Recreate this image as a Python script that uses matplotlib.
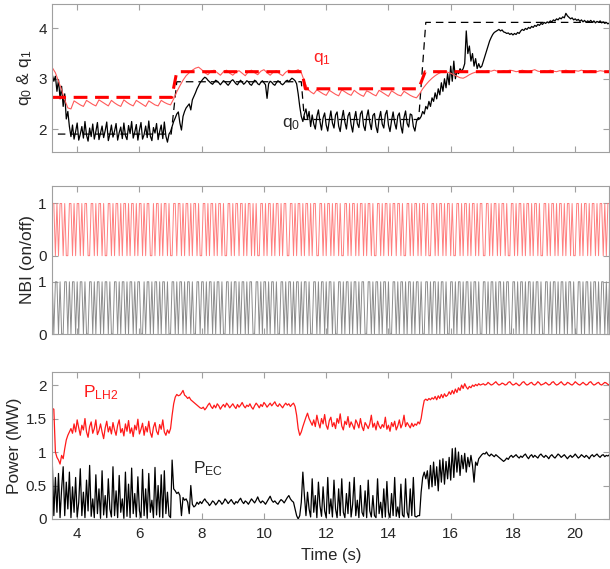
import matplotlib.pyplot as plt
import numpy as np

plt.rcParams['font.family'] = 'Liberation Sans'
plt.rcParams['mathtext.fontset'] = 'custom'
plt.rcParams['mathtext.rm'] = 'Liberation Sans'
plt.rcParams['mathtext.it'] = 'Liberation Sans'
plt.rcParams['mathtext.default'] = 'regular'

T_START, T_END = 3.2, 21.1

# safety-factor targets (step references)
q1_ref_t = [3.2, 7.04, 7.2, 11.22, 11.33, 14.97, 15.18, 21.1]
q1_ref_v = [2.63, 2.63, 3.14, 3.14, 2.80, 2.80, 3.14, 3.14]
q0_ref_t = [3.38, 7.02, 7.2, 11.2, 11.3, 14.97, 15.2, 21.1]
q0_ref_v = [1.90, 1.90, 2.94, 2.94, 2.19, 2.19, 4.12, 4.12]

# measured q0, sampled every 0.05 s from 3.2 s
q0_vals = [
    # 3.20 - 3.75
    3.08, 2.95, 3.05, 2.75, 2.98, 2.60, 2.85, 2.45, 2.70, 2.20, 2.35, 2.05,
    # 3.80 - 6.95
    1.85, 2.08, 1.80, 1.95, 2.12, 1.78, 1.90, 2.05, 1.82, 2.15,
    1.88, 1.76, 2.02, 1.85, 2.10, 1.80, 1.95, 2.13, 1.79, 1.92,
    2.06, 1.83, 1.97, 2.14, 1.77, 1.90, 2.08, 1.84, 1.96, 2.11,
    1.78, 1.93, 2.04, 1.81, 2.12, 1.87, 1.79, 2.07, 1.91, 2.15,
    1.82, 1.94, 2.09, 1.78, 1.98, 2.13, 1.80, 1.89, 2.06, 1.83,
    2.16, 1.86, 1.77, 2.03, 1.92, 2.11, 1.79, 1.95, 2.08, 1.81,
    2.14, 1.86, 1.74, 1.90,
    # 7.00 - 8.15
    1.95, 2.05, 2.15, 2.22, 2.30, 2.34, 2.12, 1.98, 2.25, 2.35, 2.42, 2.46,
    2.50, 2.38, 2.58, 2.65, 2.72, 2.80, 2.86, 2.92, 2.96, 3.00, 3.03, 3.01,
    # 8.20 - 10.95
    2.97, 2.94, 2.91, 2.89, 2.93, 2.97, 2.95, 2.92,
    2.88, 2.92, 2.96, 2.94, 2.90, 2.87, 2.91, 2.96,
    2.98, 2.94, 2.90, 2.88, 2.93, 2.97, 2.93, 2.89,
    2.92, 2.96, 2.94, 2.89, 2.87, 2.92, 2.97, 2.95,
    2.90, 2.88, 2.93, 2.96, 2.92, 2.88, 2.61, 2.90,
    2.95, 2.93, 2.89, 2.87, 2.92, 2.96, 2.94, 2.90,
    2.88, 2.91, 2.95, 2.97, 2.94, 2.98, 3.01, 2.99,
    # 11.00 - 11.30
    2.96, 2.90, 2.70, 2.45, 2.25, 2.15, 2.30,
    # 11.35 - 14.95
    2.40, 2.20, 2.35, 2.05, 2.28, 2.10, 2.00, 2.25, 2.38, 2.15,
    1.98, 2.22, 2.32, 2.08, 1.96, 2.18, 2.36, 2.12, 2.02, 2.28,
    2.34, 2.06, 1.95, 2.20, 2.37, 2.14, 2.00, 2.26, 2.33, 2.09,
    1.94, 2.19, 2.35, 2.11, 2.03, 2.30, 2.36, 2.07, 1.97, 2.24,
    2.38, 2.13, 1.99, 2.27, 2.31, 2.05, 1.93, 2.21, 2.35, 2.10,
    2.02, 2.29, 2.37, 2.08, 1.95, 2.17, 2.34, 2.12, 2.00, 2.26,
    2.32, 2.06, 1.92, 2.23, 2.36, 2.11, 2.04, 2.30, 2.28, 2.05,
    1.96, 2.15, 2.22,
    # 15.00 - 17.00
    2.20, 2.25, 2.35, 2.30, 2.45, 2.40, 2.55, 2.45, 2.62, 2.55,
    2.72, 2.60, 2.80, 2.68, 2.92, 2.75, 3.00, 2.82, 3.10, 2.88,
    3.25, 2.95, 3.35, 3.00, 3.15, 3.10, 3.20, 3.15, 3.20, 3.30,
    3.95, 3.50, 3.65, 3.35, 3.50, 3.25, 3.40, 3.20, 3.30, 3.22, 3.25,
    # 17.05 - 21.10
    3.35, 3.45, 3.55, 3.65, 3.75, 3.82, 3.88, 3.92, 3.94, 3.96,
    3.98, 3.95, 3.97, 3.93, 3.92, 3.90, 3.91, 3.88, 3.90, 3.87,
    3.90, 3.88, 3.92, 3.90, 3.95, 3.98, 3.96, 4.00, 3.98, 4.02,
    4.00, 4.04, 4.02, 4.06, 4.04, 4.08, 4.06, 4.10, 4.08, 4.12,
    4.10, 4.13, 4.11, 4.15, 4.13, 4.17, 4.15, 4.19, 4.17, 4.21,
    4.19, 4.23, 4.21, 4.30, 4.25, 4.22, 4.19, 4.21, 4.17, 4.19,
    4.16, 4.18, 4.14, 4.17, 4.13, 4.16, 4.12, 4.15, 4.13, 4.16,
    4.12, 4.15, 4.11, 4.14, 4.12, 4.15, 4.11, 4.13, 4.10, 4.12, 4.09, 4.11,
]

# measured q1, sampled every 0.1 s from 3.2 s
q1_vals = [
    3.22, 3.12, 2.95, 2.78, 2.58, 2.42,
    2.40, 2.56, 2.52, 2.48, 2.45, 2.57, 2.53, 2.49, 2.46, 2.58, 2.54, 2.50,
    2.46, 2.57, 2.52, 2.48, 2.45, 2.58, 2.53, 2.49, 2.46, 2.57, 2.53, 2.49,
    2.45, 2.56, 2.52, 2.48, 2.46, 2.57, 2.53, 2.50,
    2.48, 2.60, 2.74, 2.86, 2.97, 3.06, 3.12, 3.17, 3.21, 3.23,
    3.18, 3.12, 3.08, 3.15, 3.17, 3.12, 3.07, 3.14, 3.17, 3.11, 3.07, 3.13,
    3.16, 3.11, 3.06, 3.14, 3.17, 3.12, 3.08, 3.15, 3.18, 3.12, 3.07, 3.13,
    3.16, 3.10, 3.06, 3.13, 3.17, 3.12, 3.15, 3.18,
    3.12, 2.95, 2.80, 2.74,
    2.70, 2.78, 2.74, 2.70, 2.67, 2.77, 2.73, 2.69, 2.66, 2.78, 2.74, 2.70,
    2.67, 2.77, 2.72, 2.68, 2.65, 2.76, 2.73, 2.69, 2.66, 2.77, 2.73, 2.69,
    2.65, 2.76, 2.72, 2.68, 2.66, 2.75, 2.71, 2.67, 2.64, 2.62,
    2.70, 2.80, 2.88, 2.95, 3.01, 3.06, 3.10, 3.13, 3.14, 3.13,
    3.11, 3.08, 3.05, 3.02, 3.01, 3.04, 3.08, 3.11, 3.13, 3.14,
    3.15, 3.14, 3.16, 3.15, 3.17, 3.15, 3.14, 3.16, 3.15, 3.17, 3.16, 3.14,
    3.15, 3.17, 3.15, 3.14, 3.16, 3.18, 3.15, 3.14, 3.16, 3.15, 3.17, 3.15,
    3.14, 3.16, 3.15, 3.17, 3.15, 3.14, 3.16, 3.15, 3.17, 3.15, 3.14, 3.16,
    3.15, 3.14, 3.16, 3.15, 3.14, 3.15,
]

# NBI on/off commands, one bit every 0.05 s
nbi_a_bits = (
    "11010110100110101101011001101011010011010110101101"
    "01101011010110010110101101001101101011010110100110"
    "10110101101001101011011010110101001101011010110101"
    "10011010110101101011001101011010110100110101101011"
    "01011010011010110101101101001101011010110100110101"
    "10101101001101011010110101100110101101011010011010"
    "11010110101101001101011010110101101001101011010110"
    "101101011"
)
nbi_b_bits = (
    "10110100110101101011010011010110101101001101011010"
    "11010110010110101101011010011010110101101001101101"
    "01101011010011010110101101011001101011010110100110"
    "10110101101011010011010110101101001101011010110101"
    "10011010110101101001101011010110101101001101011010"
    "11010011010110101101011010011010110101101011001101"
    "01101011010110100110101101011010110100110101101011"
    "010110101"
)

# LH power, every 0.05 s from 3.2 s
plh2_vals = [
    1.65, 1.64, 1.00, 0.92, 0.88, 0.82, 0.95, 0.90, 1.05, 1.18, 1.25, 1.30,
    1.35, 1.28, 1.42, 1.30, 1.48, 1.36, 1.25, 1.40, 1.33, 1.50,
    1.30, 1.22, 1.38, 1.45, 1.28, 1.35, 1.48, 1.26, 1.32, 1.42,
    1.30, 1.20, 1.36, 1.46, 1.30, 1.38, 1.27, 1.44, 1.33, 1.25,
    1.40, 1.48, 1.29, 1.35, 1.24, 1.42, 1.31, 1.47, 1.28, 1.36,
    1.23, 1.40, 1.33, 1.49, 1.27, 1.34, 1.43, 1.25, 1.38, 1.30,
    1.46, 1.29, 1.22, 1.37, 1.44, 1.31, 1.26, 1.41, 1.34, 1.48,
    1.30, 1.25, 1.33, 1.28,
    1.35, 1.55, 1.72, 1.82, 1.86, 1.84, 1.85, 1.88, 1.92, 1.85, 1.83, 1.80,
    1.82, 1.78, 1.76, 1.74, 1.72, 1.70, 1.68, 1.66, 1.65, 1.67, 1.63, 1.66,
    1.70, 1.73, 1.68, 1.65, 1.70, 1.66, 1.72, 1.69, 1.64, 1.68,
    1.71, 1.67, 1.73, 1.70, 1.66, 1.69, 1.72, 1.68, 1.65, 1.71,
    1.67, 1.70, 1.74, 1.69, 1.66, 1.70, 1.68, 1.72, 1.67, 1.64,
    1.69, 1.73, 1.70, 1.66, 1.71, 1.68, 1.74, 1.71, 1.67, 1.70,
    1.73, 1.69, 1.72, 1.75, 1.70, 1.68, 1.72, 1.69, 1.66, 1.70,
    1.73, 1.70, 1.72, 1.68, 1.71, 1.73,
    1.68, 1.55, 1.35, 1.25, 1.30, 1.38, 1.45,
    1.52, 1.58, 1.50, 1.45, 1.40, 1.48, 1.38, 1.55, 1.44, 1.36,
    1.50, 1.42, 1.56, 1.40, 1.34, 1.47, 1.52, 1.38, 1.44, 1.35,
    1.50, 1.43, 1.57, 1.39, 1.33, 1.46, 1.41, 1.53, 1.37, 1.45,
    1.40, 1.34, 1.48, 1.43, 1.36, 1.50, 1.38, 1.32, 1.44, 1.40,
    1.35, 1.42, 1.55, 1.37, 1.43, 1.33, 1.46, 1.39, 1.35, 1.41,
    1.37, 1.52, 1.34, 1.40, 1.31, 1.44, 1.38, 1.46, 1.33, 1.39,
    1.48, 1.36, 1.42, 1.55, 1.38, 1.44, 1.40, 1.36, 1.43, 1.38,
    1.42, 1.40, 1.45,
    1.42, 1.50, 1.65, 1.77, 1.79, 1.77, 1.80, 1.78, 1.81, 1.79,
    1.83, 1.78, 1.84, 1.80, 1.86, 1.81, 1.87, 1.83, 1.85, 1.90,
    1.86, 1.92, 1.87, 1.94, 1.89, 1.96, 1.92, 2.00, 1.95, 2.02,
    1.97, 1.94, 1.98, 1.96, 2.00, 1.98, 2.01, 1.99, 2.02, 2.00, 2.01,
    2.02, 2.00, 2.01, 2.04, 2.02, 2.00, 2.01, 2.03, 2.05, 2.02,
    2.00, 2.01, 2.03, 2.02, 2.00, 2.01, 2.04, 2.05, 2.02, 2.00,
    2.01, 2.03, 2.01, 1.99, 2.01, 2.04, 2.05, 2.02, 2.00, 2.01,
    2.03, 2.04, 2.01, 2.00, 2.02, 2.05, 2.03, 2.00, 2.01, 2.02,
    2.04, 2.02, 2.00, 2.01, 2.04, 2.05, 2.02, 2.00, 2.01, 2.03,
    2.05, 2.02, 2.00, 2.01, 2.04, 2.03, 2.01, 2.00, 2.02, 2.05,
    2.03, 2.01, 2.00, 2.02, 2.04, 2.02, 2.00, 2.01, 2.04, 2.05,
    2.02, 2.00, 2.01, 2.03, 2.04, 2.01, 2.00, 2.02, 2.04, 2.03,
    2.01, 2.00,
]

# EC power, every 0.05 s from 3.2 s
pec_vals = [
    0.85, 0.05, 0.62, 0.10, 0.68, 0.02, 0.45, 0.78, 0.05, 0.55, 0.15, 0.70,
    0.02, 0.48, 0.10, 0.62, 0.03, 0.25, 0.75, 0.05, 0.40, 0.02,
    0.58, 0.12, 0.80, 0.04, 0.30, 0.02, 0.66, 0.08, 0.45, 0.01,
    0.72, 0.06, 0.35, 0.02, 0.60, 0.15, 0.03, 0.78, 0.05, 0.42,
    0.02, 0.65, 0.10, 0.30, 0.01, 0.70, 0.04, 0.52, 0.02, 0.76,
    0.08, 0.38, 0.03, 0.63, 0.12, 0.02, 0.74, 0.05, 0.45, 0.01,
    0.68, 0.10, 0.28, 0.02, 0.77, 0.06, 0.50, 0.03, 0.66, 0.02,
    0.72, 0.08, 0.40, 0.05,
    0.02, 0.88, 0.45, 0.42, 0.38, 0.40, 0.35, 0.05, 0.32, 0.28, 0.30, 0.25,
    0.08, 0.50, 0.22, 0.18, 0.20, 0.25, 0.22, 0.26, 0.23, 0.27, 0.30, 0.26,
    0.24, 0.20, 0.23, 0.27, 0.25, 0.21, 0.24, 0.28, 0.26, 0.22,
    0.25, 0.30, 0.27, 0.23, 0.26, 0.29, 0.25, 0.22, 0.26, 0.24,
    0.28, 0.31, 0.26, 0.23, 0.27, 0.25, 0.22, 0.26, 0.30, 0.27,
    0.24, 0.28, 0.33, 0.27, 0.24, 0.27, 0.25, 0.22, 0.26, 0.30,
    0.34, 0.28, 0.25, 0.27, 0.24, 0.22, 0.26, 0.29, 0.27, 0.24,
    0.28, 0.32, 0.35, 0.30, 0.27, 0.25,
    0.15, 0.05, 0.00, 0.05, 0.25, 0.70, 0.35,
    0.05, 0.40, 0.15, 0.03, 0.60, 0.10, 0.35, 0.02, 0.55, 0.20,
    0.04, 0.48, 0.12, 0.02, 0.62, 0.08, 0.30, 0.03, 0.58, 0.15,
    0.02, 0.45, 0.05, 0.60, 0.10, 0.02, 0.38, 0.08, 0.55, 0.03,
    0.22, 0.62, 0.05, 0.28, 0.02, 0.50, 0.10, 0.04, 0.42, 0.02,
    0.58, 0.12, 0.03, 0.35, 0.05, 0.02, 0.60, 0.08, 0.25, 0.02,
    0.45, 0.03, 0.56, 0.10, 0.02, 0.38, 0.05, 0.62, 0.04, 0.18,
    0.02, 0.52, 0.06, 0.03, 0.60, 0.10, 0.02, 0.45, 0.05, 0.62,
    0.04, 0.03, 0.05,
    0.05, 0.40, 0.62, 0.70, 0.60, 0.72, 0.45, 0.80, 0.48, 0.85,
    0.50, 0.78, 0.42, 0.88, 0.55, 0.90, 0.52, 0.86, 0.60, 0.92,
    0.58, 1.05, 0.62, 1.06, 0.70, 1.00, 0.65, 0.95, 0.75, 0.98,
    0.70, 0.92, 0.78, 0.95, 0.80, 0.55, 0.85, 0.80, 0.90, 0.93, 0.96,
    0.98, 0.97, 1.00, 0.96, 0.94, 0.97, 0.95, 0.93, 0.96, 0.94,
    0.92, 0.90, 0.88, 0.86, 0.88, 0.91, 0.89, 0.93, 0.95, 0.92,
    0.94, 0.96, 0.93, 0.91, 0.94, 0.92, 0.95, 0.97, 0.93, 0.90,
    0.94, 0.96, 0.92, 0.95, 0.93, 0.91, 0.95, 0.97, 0.94, 0.92,
    0.95, 0.93, 0.90, 0.94, 0.96, 0.93, 0.91, 0.94, 0.97, 0.95,
    0.92, 0.94, 0.96, 0.93, 0.90, 0.93, 0.95, 0.92, 0.94, 0.97,
    0.94, 0.91, 0.93, 0.96, 0.94, 0.92, 0.95, 0.93, 0.90, 0.94,
    0.96, 0.93, 0.95, 0.97, 0.94, 0.92, 0.95, 0.96, 0.93, 0.95,
    0.94, 0.96,
]


def time_axis(vals, dt):
    return T_START + dt * np.arange(len(vals))


def bits(s):
    return np.array([int(c) for c in s], dtype=float)


SPINE = '#a0a0a0'
TXT = '#262626'
LABEL_SIZE = 12.5


def style(ax, yticks, ylabels, ylim, xlabels=False):
    ax.set_xlim(T_START, T_END)
    ax.set_ylim(*ylim)
    ax.set_xticks(np.arange(4, 21, 2))
    ax.set_yticks(yticks)
    ax.set_yticklabels(ylabels)
    ax.tick_params(direction='in', length=4, width=0.8, color=SPINE,
                   labelcolor=TXT, labelsize=11, top=True, right=True,
                   labelbottom=xlabels, pad=4)
    ax.tick_params(axis='x', pad=6)
    for sp in ax.spines.values():
        sp.set_color(SPINE)
        sp.set_linewidth(0.8)


fig = plt.figure(figsize=(6.1, 5.69), dpi=100)
ax1 = fig.add_axes([0.0857, 0.7334, 0.9134, 0.2591])
ax2 = fig.add_axes([0.0857, 0.4130, 0.9134, 0.2606])
ax3 = fig.add_axes([0.0857, 0.0879, 0.9134, 0.2589])

# q profile
ax1.plot(q0_ref_t, q0_ref_v, color='black', lw=0.9, dashes=(6, 4))
ax1.plot(time_axis(q0_vals, 0.05), q0_vals, color='black', lw=0.9)
ax1.plot(time_axis(q1_vals, 0.1), q1_vals, color='#ff5a5a', lw=0.8)
ax1.plot(q1_ref_t, q1_ref_v, color='#ff0000', lw=2.2, dashes=(4.5, 2.5))
ax1.text(11.58, 3.34, 'q$_1$', color='#ff2020', fontsize=12.5, va='baseline')
ax1.text(10.58, 2.04, 'q$_0$', color=TXT, fontsize=12.5, va='baseline')
style(ax1, [2, 3, 4], ['2', '3', '4'], (1.55, 4.48))
ax1.set_ylabel('q$_0$ & q$_1$', fontsize=LABEL_SIZE, color=TXT, va='center')
ax1.yaxis.set_label_coords(-0.05, 0.5)

# NBI sources, upper trace offset by 1.5
nbi_a = bits(nbi_a_bits)
nbi_b = bits(nbi_b_bits)
ax2.plot(time_axis(nbi_a, 0.05), nbi_a + 1.5, color='#ff7f7f', lw=0.7)
ax2.plot(time_axis(nbi_b, 0.05), nbi_b, color='#8c8c8c', lw=0.7)
style(ax2, [0, 1, 1.5, 2.5], ['0', '1', '0', '1'], (0, 2.84))
ax2.set_ylabel('NBI (on/off)', fontsize=LABEL_SIZE, color=TXT, va='center')
ax2.yaxis.set_label_coords(-0.044, 0.5)

# heating power
ax3.plot(time_axis(plh2_vals, 0.05), plh2_vals, color='#ff1a1a', lw=0.9)
ax3.plot(time_axis(pec_vals, 0.05), pec_vals, color='black', lw=0.9)
ax3.text(4.2, 1.82, 'P$_{LH2}$', color='#ff1a1a', fontsize=12.5, va='baseline')
ax3.text(7.73, 0.68, 'P$_{EC}$', color=TXT, fontsize=12.5, va='baseline')
style(ax3, [0, 0.5, 1, 1.5, 2], ['0', '0.5', '1', '1.5', '2'], (0, 2.2),
      xlabels=True)
ax3.set_ylabel('Power (MW)', fontsize=LABEL_SIZE, color=TXT, va='center')
ax3.yaxis.set_label_coords(-0.067, 0.5)
ax3.set_xlabel('Time (s)', fontsize=12, color=TXT, va='center')
ax3.xaxis.set_label_coords(0.5, -0.245)

fig.savefig('out.png', dpi=100)
